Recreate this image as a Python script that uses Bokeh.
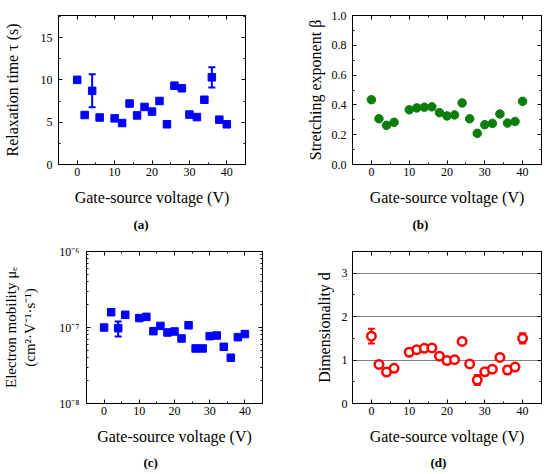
from bokeh.plotting import figure
from bokeh.layouts import column, row
from bokeh.models import (LinearAxis, LogAxis, FixedTicker, SingleIntervalTicker, Whisker, TeeHead,
                          ColumnDataSource, Range1d, CustomJSTickFormatter, Title,
                          PrintfTickFormatter)
from bokeh.embed import file_html
from bokeh.resources import INLINE

FONT = "Liberation Serif"

# ---------------- data ----------------
voltage = [0, 2, 4, 6, 10, 12, 14, 16, 18, 20, 22, 24, 26, 28, 30, 32, 34, 36, 38, 40]

tau = [10.0, 5.85, 8.7, 5.55, 5.45, 4.9, 7.2, 5.8, 6.8, 6.25, 7.5, 4.75, 9.3, 9.0,
       5.9, 5.6, 7.65, 10.3, 5.3, 4.75]
tau_err = [0.3, 0, 1.95, 0, 0, 0, 0, 0, 0, 0, 0, 0, 0.35, 0, 0, 0, 0, 1.2, 0, 0]

beta = [0.435, 0.307, 0.263, 0.283, 0.367, 0.38, 0.385, 0.387, 0.348, 0.326, 0.333, 0.413,
        0.307, 0.209, 0.267, 0.276, 0.339, 0.278, 0.289, 0.424]

mobility = [1.0e-7, 1.59e-7, 0.98e-7, 1.47e-7, 1.33e-7, 1.38e-7, 0.895e-7, 1.05e-7, 0.86e-7,
            0.886e-7, 0.717e-7, 1.07e-7, 0.53e-7, 0.53e-7, 0.77e-7, 0.785e-7, 0.557e-7,
            0.40e-7, 0.746e-7, 0.82e-7]
mobility_err = [0, 0, 0.22e-7, 0, 0, 0, 0, 0, 0, 0, 0, 0, 0, 0, 0, 0, 0, 0.03e-7, 0, 0]

dimensionality = [1.55, 0.90, 0.725, 0.81, 1.18, 1.24, 1.27, 1.28, 1.09, 0.99, 1.01, 1.43,
                  0.91, 0.54, 0.73, 0.79, 1.06, 0.77, 0.84, 1.50]
dim_err = [0.17, 0, 0, 0, 0, 0, 0, 0, 0, 0, 0, 0, 0, 0.115, 0, 0, 0, 0.09, 0, 0.12]

x_ticks_interval = 10
panel_labels = ["(a)", "(b)", "(c)", "(d)"]
x_title = "Gate-source voltage (V)"

BLUE = "#0000FF"
GREEN = "#0A7D0A"
RED = "#FF0000"


def style_axis(ax, labels=True):
    ax.major_tick_in = 4
    ax.major_tick_out = 0
    ax.minor_tick_in = 2
    ax.minor_tick_out = 0
    ax.axis_line_color = "black"
    ax.major_tick_line_color = "black"
    ax.minor_tick_line_color = "black"
    ax.major_label_text_font = FONT
    ax.major_label_text_font_size = "12px"
    ax.major_label_text_color = "black"
    ax.axis_label_text_font = FONT
    ax.axis_label_text_font_size = "16px"
    ax.axis_label_text_font_style = "normal"
    ax.axis_label_text_color = "black"
    if not labels:
        ax.major_label_text_font_size = "0px"
        ax.major_label_text_color = None
        ax.major_label_standoff = 0


def make_panel(left, right, top, bottom, y_range, y_ticker, y_label, y_type="linear",
               y_std=6, y_lab_std=10, formatter=None, y_label_size="16px"):
    p = figure(width=275, height=237, x_range=Range1d(-5, 45), y_range=y_range,
               y_axis_type=y_type, output_backend="svg", toolbar_location=None,
               min_border_left=left, min_border_right=right, min_border_top=top,
               min_border_bottom=bottom)
    p.xgrid.visible = False
    p.ygrid.visible = False
    p.outline_line_color = "black"
    p.outline_line_width = 1
    p.background_fill_color = "white"
    p.border_fill_color = "white"
    p.xaxis.ticker = SingleIntervalTicker(interval=x_ticks_interval, num_minor_ticks=2)
    p.yaxis.ticker = y_ticker
    if formatter is not None:
        p.yaxis.formatter = formatter
    for ax in p.xaxis + p.yaxis:
        style_axis(ax)
    p.xaxis.axis_label = x_title
    p.xaxis.major_label_standoff = 3
    p.xaxis.axis_label_standoff = 10
    p.yaxis.axis_label = y_label
    p.yaxis.axis_label_text_font_size = y_label_size
    p.yaxis.major_label_standoff = y_std
    p.yaxis.axis_label_standoff = y_lab_std
    # mirrored axes (ticks only)
    ra = LogAxis(ticker=y_ticker) if y_type == "log" else LinearAxis(ticker=y_ticker)
    style_axis(ra, labels=False)
    p.add_layout(ra, "right")
    ta = LinearAxis(ticker=SingleIntervalTicker(interval=x_ticks_interval, num_minor_ticks=2))
    style_axis(ta, labels=False)
    p.add_layout(ta, "above")
    return p


def add_errors(p, xs, ys, errs, color):
    idx = [i for i, e in enumerate(errs) if e > 0]
    src = ColumnDataSource(dict(x=[xs[i] for i in idx],
                                upper=[ys[i] + errs[i] for i in idx],
                                lower=[ys[i] - errs[i] for i in idx]))
    w = Whisker(source=src, base="x", upper="upper", lower="lower", dimension="height",
                line_color=color, line_width=2,
                upper_head=TeeHead(size=7, line_color=color, line_width=2),
                lower_head=TeeHead(size=7, line_color=color, line_width=2))
    p.add_layout(w)


def add_tag(p, text, offset, standoff):
    t = Title(text=text, align="left", offset=offset, standoff=standoff,
              text_font=FONT, text_font_size="13px", text_font_style="bold",
              text_color="black")
    p.add_layout(t, "below")


# (a) relaxation time
pa = make_panel(55, 30, 15, 68, Range1d(0, 17.6),
                SingleIntervalTicker(interval=5, num_minor_ticks=2),
                "Relaxation time τ (s)", y_std=6, y_lab_std=17)
add_errors(pa, voltage, tau, tau_err, BLUE)
pa.scatter(voltage, tau, marker="square", size=7.5, color=BLUE)
add_tag(pa, panel_labels[0], 75, 12)

# (b) stretching exponent
pb = make_panel(77, 9, 15, 67, Range1d(0, 1.0),
                SingleIntervalTicker(interval=0.2, num_minor_ticks=2),
                "Stretching exponent β", y_std=6, y_lab_std=5,
                formatter=PrintfTickFormatter(format="%.1f"))
pb.scatter(voltage, beta, marker="circle", size=8.5, color=GREEN)
add_tag(pb, panel_labels[1], 60, 12)

# (c) mobility
sup_fmt = CustomJSTickFormatter(code="""
const sup = {'-': '\u207b', '0': '\u2070', '1': '\u00b9', '2': '\u00b2', '3': '\u00b3',
             '4': '\u2074', '5': '\u2075', '6': '\u2076', '7': '\u2077', '8': '\u2078', '9': '\u2079'};
const e = Math.round(Math.log10(tick));
return '10' + String(e).split('').map(c => sup[c]).join('');
""")
minor = [k * 10.0 ** e for e in (-8, -7) for k in range(2, 10)]
pc = make_panel(73, 13, 13, 71, Range1d(1e-8, 1e-6),
                FixedTicker(ticks=[1e-8, 1e-7, 1e-6], minor_ticks=minor),
                "Electron mobility μₑ\n(cm²·V⁻¹·s⁻¹)", y_type="log", y_std=7, y_lab_std=18,
                formatter=sup_fmt, y_label_size="15px")
add_errors(pc, voltage, mobility, mobility_err, BLUE)
pc.scatter(voltage, mobility, marker="square", size=7.5, color=BLUE)
add_tag(pc, panel_labels[2], 57, 10)

# (d) dimensionality
pd_ = make_panel(77, 9, 14, 70, Range1d(0, 3.5),
                 SingleIntervalTicker(interval=1, num_minor_ticks=2),
                 "Dimensionality d", y_std=5, y_lab_std=6)
pd_.ygrid.visible = True
pd_.ygrid.ticker = FixedTicker(ticks=[1, 2, 3])
pd_.ygrid.grid_line_color = "black"
pd_.ygrid.grid_line_dash = "1 1"
pd_.ygrid.grid_line_width = 1
add_errors(pd_, voltage, dimensionality, dim_err, RED)
pd_.scatter(voltage, dimensionality, marker="circle", size=8.5, line_color=RED,
            fill_color="white", line_width=2.5)
add_tag(pd_, panel_labels[3], 78, 10)

layout = column(row(pa, pb, spacing=0), row(pc, pd_, spacing=0), spacing=0)
open("out.html", "w").write(file_html(layout, INLINE))
